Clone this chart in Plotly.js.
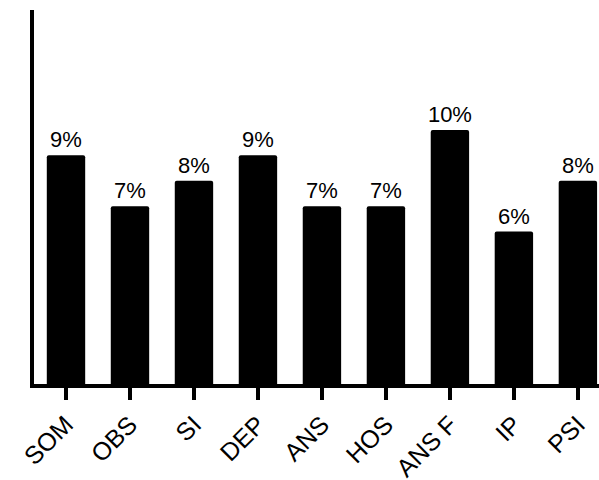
<!DOCTYPE html>
<html>
<head>
<meta charset="utf-8">
<script src="https://cdn.plot.ly/plotly-3.0.1.min.js"></script>
<style>html,body{margin:0;padding:0;background:#fff;}#chart{width:599px;height:480px;}</style>
</head>
<body>
<div id="chart"></div>
<script>
var categories = ["SOM", "OBS", "SI", "DEP", "ANS", "HOS", "ANS F", "IP", "PSI"];
var values = [9, 7, 8, 9, 7, 7, 10, 6, 8];
var labels = values.map(function (v) { return v + "%"; });

var trace = {
  type: "bar",
  x: categories,
  y: values,
  text: labels,
  textposition: "outside",
  constraintext: "none",
  cliponaxis: false,
  textfont: {family: "Liberation Sans, Arial, sans-serif", size: 22, color: "#000"},
  marker: {color: "#000", cornerradius: 2, line: {width: 0}},
  hoverinfo: "none"
};

var layout = {
  width: 599,
  height: 480,
  margin: {l: 34, r: 0, t: 10, b: 96, pad: 0},
  paper_bgcolor: "#fff",
  plot_bgcolor: "#fff",
  showlegend: false,
  bargap: 0.4,
  uniformtext: {mode: false},
  font: {family: "Liberation Sans, Arial, sans-serif", size: 22, color: "#000"},
  xaxis: {
    type: "category",
    range: [-0.5, 8.33],
    showline: true,
    linecolor: "#000",
    linewidth: 4,
    ticks: "outside",
    ticklen: 12,
    tickwidth: 4,
    tickcolor: "#000",
    tickangle: -45,
    tickfont: {family: "Liberation Sans, Arial, sans-serif", size: 25, color: "#000"},
    showgrid: false,
    zeroline: false
  },
  yaxis: {
    range: [0, 14.72],
    showline: true,
    linecolor: "#000",
    linewidth: 4,
    ticks: "",
    showticklabels: false,
    showgrid: false,
    zeroline: false
  }
};

Plotly.newPlot("chart", [trace], layout, {displayModeBar: false, staticPlot: true});
</script>
</body>
</html>
